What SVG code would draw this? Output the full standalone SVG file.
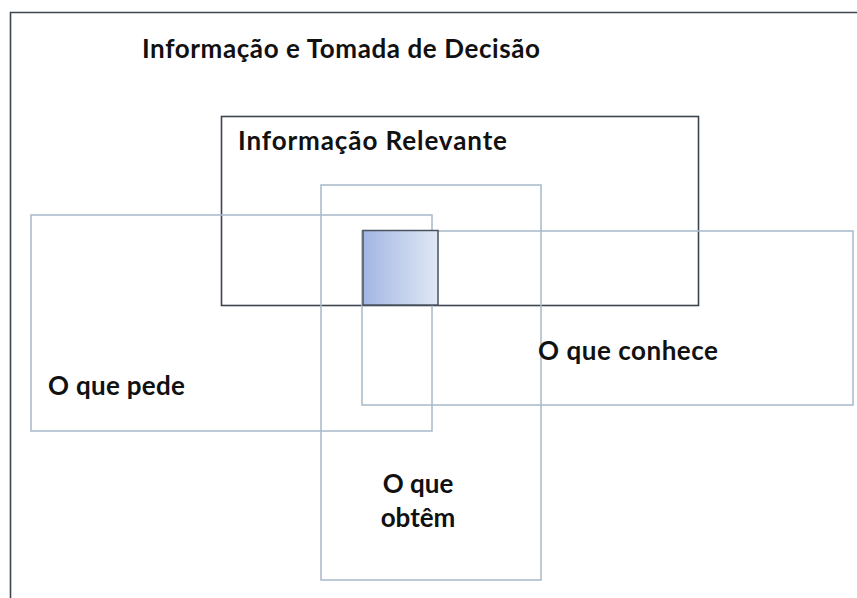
<svg xmlns="http://www.w3.org/2000/svg" width="857" height="598" viewBox="0 0 857 598">
<defs>
<linearGradient id="g" x1="0" y1="0" x2="1" y2="0">
<stop offset="0" stop-color="#a2b6e2"/>
<stop offset="1" stop-color="#e0e8f5"/>
</linearGradient>
</defs>
<style>
.dark{fill:none;stroke:#3d4550;stroke-width:1.6}
.blue{fill:none;stroke:#a7b9cb;stroke-width:1.5}
.t{font-family:Lato,"Open Sans",sans-serif;font-weight:bold;font-size:26px;fill:#111}
</style>
<rect width="857" height="598" fill="#fff"/>
<g id="frame">
<path class="dark" d="M10.5,598 V12.5 H857" stroke-width="2"/>
<text class="t" x="142" y="58" textLength="398">Informação e Tomada de Decisão</text>
</g>
<g id="relevante">
<rect class="dark" x="221.5" y="116.5" width="477" height="189"/>
<text class="t" x="238" y="150" textLength="269">Informação Relevante</text>
</g>
<g id="pede">
<rect class="blue" x="31" y="215" width="401" height="216"/>
<text class="t" x="48" y="395" textLength="137">O que pede</text>
</g>
<g id="obtem">
<rect class="blue" x="321" y="185" width="220" height="395"/>
<text class="t" x="418" y="493" text-anchor="middle">O que</text>
<text class="t" x="418" y="527" text-anchor="middle">obtêm</text>
</g>
<g id="conhece">
<rect class="blue" x="362" y="231" width="491" height="174"/>
<text class="t" x="538" y="360" textLength="180">O que conhece</text>
</g>
<g id="interseccao">
<rect x="363" y="230.5" width="75" height="74.5" fill="url(#g)" stroke="#4a525e" stroke-width="1.5"/>
</g>
<g id="connectors"/>
</svg>
